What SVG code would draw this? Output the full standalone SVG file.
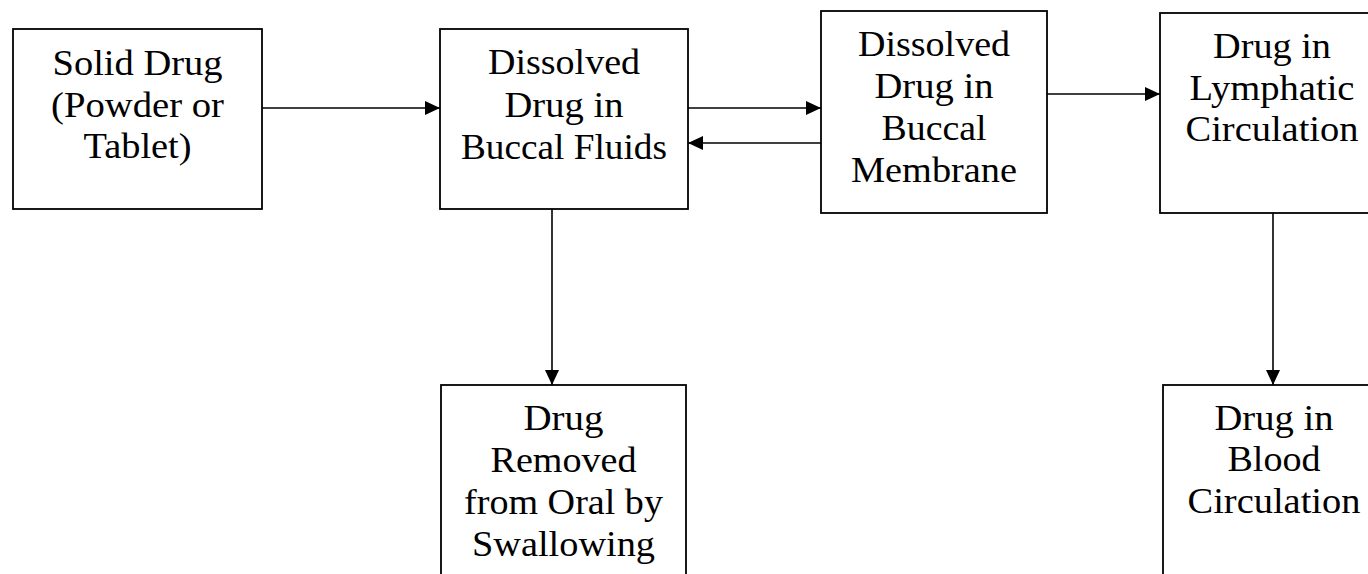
<svg xmlns="http://www.w3.org/2000/svg" width="1368" height="574" viewBox="0 0 1368 574">
  <style>
    .box { fill: #ffffff; stroke: #000000; stroke-width: 1.8; }
    .lbl { font-family: "Liberation Serif", "Times New Roman", serif; font-size: 35px; fill: #000000; text-anchor: middle; }
    .con { stroke: #000000; stroke-width: 1.6; fill: none; marker-end: url(#arrow); }
  </style>
  <defs>
    <marker id="arrow" markerUnits="userSpaceOnUse" markerWidth="15" markerHeight="16" viewBox="0 0 15 16" refX="15" refY="8" orient="auto">
      <path d="M0,1 L15,8 L0,15 Z" fill="#000000"/>
    </marker>
  </defs>
  <rect width="1368" height="574" fill="#ffffff"/>

  <g id="connectors">
    <line class="con" x1="262" y1="108" x2="440" y2="108"/>
    <line class="con" x1="688" y1="108" x2="821" y2="108"/>
    <line class="con" x1="821" y1="143" x2="688" y2="143"/>
    <line class="con" x1="1047" y1="94" x2="1160" y2="94"/>
    <line class="con" x1="552" y1="209" x2="552" y2="385"/>
    <line class="con" x1="1273" y1="213" x2="1273" y2="385"/>
  </g>

  <g id="solid-drug">
    <rect class="box" x="13" y="29" width="249" height="180"/>
    <text class="lbl" x="137.5" y="75" textLength="170" lengthAdjust="spacingAndGlyphs">Solid Drug</text>
    <text class="lbl" x="137.5" y="117" textLength="173" lengthAdjust="spacingAndGlyphs">(Powder or</text>
    <text class="lbl" x="137.5" y="158" textLength="108" lengthAdjust="spacingAndGlyphs">Tablet)</text>
  </g>

  <g id="dissolved-fluids">
    <rect class="box" x="440" y="29" width="248" height="180"/>
    <text class="lbl" x="564" y="74" textLength="152" lengthAdjust="spacingAndGlyphs">Dissolved</text>
    <text class="lbl" x="564" y="117" textLength="119" lengthAdjust="spacingAndGlyphs">Drug in</text>
    <text class="lbl" x="564" y="159" textLength="206" lengthAdjust="spacingAndGlyphs">Buccal Fluids</text>
  </g>

  <g id="dissolved-membrane">
    <rect class="box" x="821" y="11" width="226" height="202"/>
    <text class="lbl" x="934" y="56" textLength="152" lengthAdjust="spacingAndGlyphs">Dissolved</text>
    <text class="lbl" x="934" y="98" textLength="119" lengthAdjust="spacingAndGlyphs">Drug in</text>
    <text class="lbl" x="934" y="140" textLength="105" lengthAdjust="spacingAndGlyphs">Buccal</text>
    <text class="lbl" x="934" y="182" textLength="166" lengthAdjust="spacingAndGlyphs">Membrane</text>
  </g>

  <g id="lymphatic">
    <rect class="box" x="1160" y="13" width="226" height="200"/>
    <text class="lbl" x="1272" y="58" textLength="118" lengthAdjust="spacingAndGlyphs">Drug in</text>
    <text class="lbl" x="1272" y="100" textLength="165" lengthAdjust="spacingAndGlyphs">Lymphatic</text>
    <text class="lbl" x="1272" y="141" textLength="173" lengthAdjust="spacingAndGlyphs">Circulation</text>
  </g>

  <g id="swallowing">
    <rect class="box" x="441" y="385" width="245" height="220"/>
    <text class="lbl" x="563.5" y="430" textLength="80" lengthAdjust="spacingAndGlyphs">Drug</text>
    <text class="lbl" x="563.5" y="472" textLength="146" lengthAdjust="spacingAndGlyphs">Removed</text>
    <text class="lbl" x="563.5" y="514" textLength="199" lengthAdjust="spacingAndGlyphs">from Oral by</text>
    <text class="lbl" x="563.5" y="556" textLength="183" lengthAdjust="spacingAndGlyphs">Swallowing</text>
  </g>

  <g id="blood">
    <rect class="box" x="1163" y="385" width="222" height="220"/>
    <text class="lbl" x="1274" y="430" textLength="119" lengthAdjust="spacingAndGlyphs">Drug in</text>
    <text class="lbl" x="1274" y="471" textLength="93" lengthAdjust="spacingAndGlyphs">Blood</text>
    <text class="lbl" x="1274" y="513" textLength="173" lengthAdjust="spacingAndGlyphs">Circulation</text>
  </g>
</svg>
